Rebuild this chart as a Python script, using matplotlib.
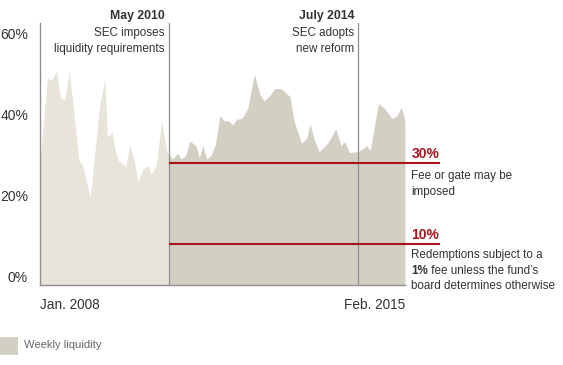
import numpy as np
import matplotlib
matplotlib.use("Agg")
import matplotlib.pyplot as plt

plt.rcParams["font.family"] = ["Liberation Sans", "DejaVu Sans"]

# weekly liquidity (% of assets), x in months since Jan. 2008
months = [0.0, 0.2, 1.7, 2.8, 3.8, 4.8, 5.8, 6.8, 8.1, 9.1, 9.9, 11.7, 13.9, 15.1,
          15.7, 16.8, 17.4, 18.2, 20.0, 20.9, 21.9, 22.8, 24.0, 25.2, 25.9, 27.1,
          28.3, 29.5, 30.2, 30.8, 32.1, 32.8, 33.9, 34.9, 36.3, 37.1, 37.9, 38.8,
          39.8, 40.8, 41.9, 42.9, 43.9, 44.9, 45.8, 47.0, 48.4, 49.9, 51.2, 52.2,
          53.6, 54.7, 56.1, 58.2, 59.2, 60.9, 62.1, 62.9, 63.9, 65.0, 67.0, 68.9,
          70.1, 71.0, 72.0, 74.1, 76.1, 76.9, 78.8, 80.2, 82.0, 83.1, 84.1, 84.8, 85.0]
liquidity = [31.5, 32.8, 50.9, 50.5, 52.7, 46.1, 45.6, 53.0, 40.2, 30.5, 29.5, 21.4,
             44.3, 50.7, 36.5, 37.6, 33.5, 30.7, 29.1, 34.3, 31.0, 25.4, 28.5, 29.3,
             27.2, 29.5, 40.6, 33.0, 32.0, 31.0, 32.4, 31.0, 31.8, 35.4, 34.3, 31.3,
             34.3, 31.0, 31.8, 34.4, 41.7, 40.4, 40.4, 39.4, 40.8, 41.0, 43.5, 51.9,
             47.0, 45.3, 46.8, 48.4, 48.4, 46.4, 40.2, 34.9, 36.1, 39.6, 35.7, 32.8,
             34.9, 38.4, 34.3, 35.3, 32.6, 32.8, 34.3, 33.1, 44.7, 43.5, 41.0, 41.7,
             43.7, 41.4, 40.0]

event_x = [30.0, 74.1]
event_titles = ["May 2010", "July 2014"]
event_notes = [["SEC imposes", "liquidity requirements"], ["SEC adopts", "new reform"]]

thresholds = [30, 10]
threshold_labels = ["30%", "10%"]
yticks = [0, 20, 40, 60]
x_labels = ["Jan. 2008", "Feb. 2015"]

LIGHT = "#e8e4da"
DARK = "#d3cfc3"
RED = "#a8141c"
GRAY = "#8f8f8f"
TXT = "#333333"
YTOP = 64.5

fig = plt.figure(figsize=(5.63, 3.65), dpi=100)
ax = fig.add_axes([40 / 563, 80.5 / 365, 365 / 563, 261.2 / 365])

x = np.array(months)
y = np.array(liquidity)
split = event_x[0]
ys = np.interp(split, x, y)
m1 = x < split
ax.fill_between(np.r_[x[m1], split], np.r_[y[m1], ys], 0, color=LIGHT, lw=0)
m2 = x > split
ax.fill_between(np.r_[split, x[m2]], np.r_[ys, y[m2]], 0, color=DARK, lw=0)

ax.set_xlim(0, 85)
ax.set_ylim(0, YTOP)

for s in ["top", "right"]:
    ax.spines[s].set_visible(False)
for s in ["left", "bottom"]:
    ax.spines[s].set_color(GRAY)
    ax.spines[s].set_linewidth(1)

ax.set_xticks([])
ax.set_yticks(yticks)
ax.set_yticklabels([f"{v}%" for v in yticks], va="bottom", fontsize=10, color=TXT)
ax.tick_params(axis="y", length=0, pad=8.6)


def note(text, xy, dy, ha="left", bold=False, color=TXT, size=8.4):
    return ax.annotate(text, xy=xy, xytext=(0, -dy), textcoords="offset pixels",
                       ha=ha, va="center", fontsize=size, color=color,
                       fontweight="bold" if bold else "normal",
                       annotation_clip=False)


for ex, title, lines in zip(event_x, event_titles, event_notes):
    ax.axvline(ex, color=GRAY, lw=0.9)
    xy = (ex - 0.9, YTOP)
    note(title, xy, -7.0, ha="right", bold=True, size=8.8)
    for i, line in enumerate(lines):
        note(line, xy, 9.5 + 16 * i, ha="right")

red_end = 93.2
for t in thresholds:
    ax.plot([event_x[0], red_end], [t, t], color=RED, lw=1.5, clip_on=False,
            solid_capstyle="butt")

tx = 86.5
note(threshold_labels[0], (tx, thresholds[0]), -9.0, bold=True, color=RED, size=10)
note("Fee or gate may be", (tx, thresholds[0]), 12.5)
note("imposed", (tx, thresholds[0]), 28.5)

note(threshold_labels[1], (tx, thresholds[1]), -9.5, bold=True, color=RED, size=10)
note("Redemptions subject to a", (tx, thresholds[1]), 10.8)
t1 = note("1%", (tx, thresholds[1]), 26.5, bold=True)
ax.annotate(" fee unless the fund\u2019s", xy=(1, 0), xycoords=t1,
            ha="left", va="bottom", fontsize=8.4, color=TXT)
note("board determines otherwise", (tx, thresholds[1]), 42.2)

ax.text(0, -0.05, x_labels[0], transform=ax.transAxes, ha="left", va="top",
        fontsize=9.8, color=TXT)
ax.text(1, -0.05, x_labels[1], transform=ax.transAxes, ha="right", va="top",
        fontsize=9.8, color=TXT)

# legend swatch
fig.patches.append(plt.Rectangle((0, 1 - 355 / 365), 18 / 563, 18 / 365,
                                 transform=fig.transFigure, color=DARK, lw=0))
fig.text(24 / 563, 1 - 345 / 365, "Weekly liquidity", ha="left", va="center",
         fontsize=8.1, color="#666666")

fig.savefig("out.png", dpi=100)
